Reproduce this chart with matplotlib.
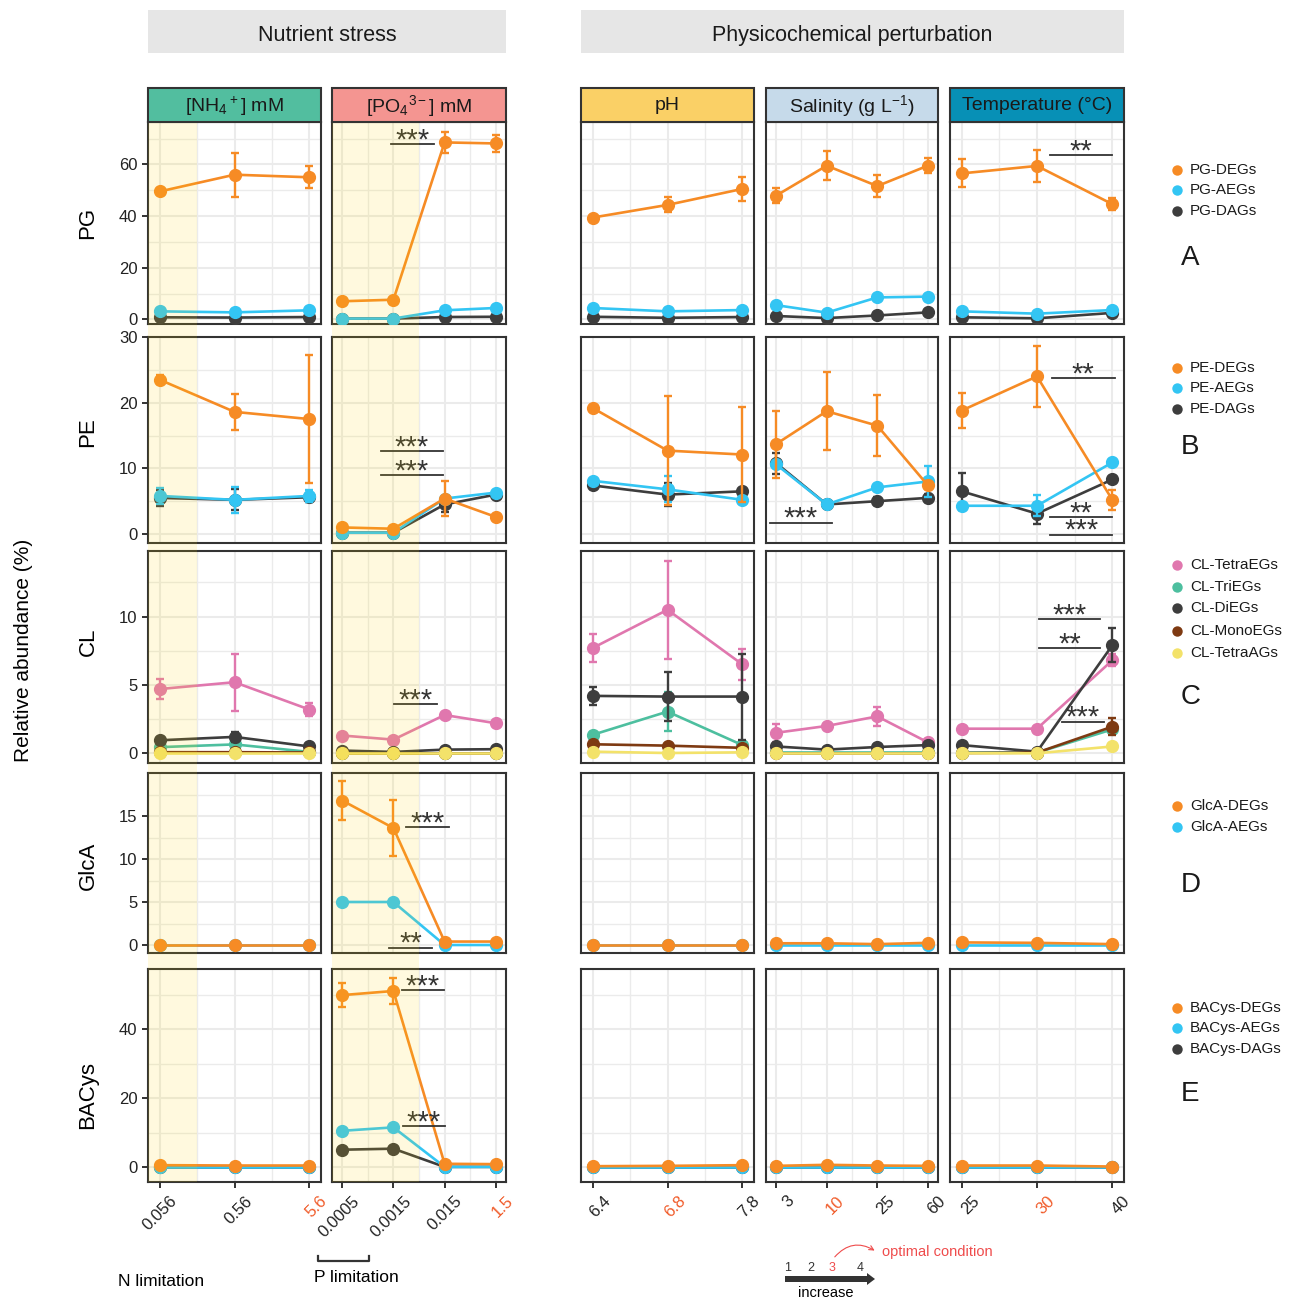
import numpy as np
import matplotlib
matplotlib.use("Agg")
import matplotlib.pyplot as plt
from matplotlib.patches import Rectangle, FancyArrow, FancyArrowPatch
from matplotlib.transforms import ScaledTranslation

plt.rcParams["font.family"] = ["Liberation Sans", "DejaVu Sans"]
plt.rcParams["mathtext.fontset"] = "custom"
plt.rcParams["mathtext.rm"] = "Liberation Sans"
plt.rcParams["mathtext.it"] = "Liberation Sans:italic"
plt.rcParams["mathtext.default"] = "regular"

# ---- data ----
LEVELS = [["0.056", "0.56", "5.6"],
          ["0.0005", "0.0015", "0.015", "1.5"],
          ["6.4", "6.8", "7.8"],
          ["3", "10", "25", "60"],
          ["25", "30", "40"]]
OPTIMAL = ["5.6", "1.5", "6.8", "10", "30"]
STRIPS = [r"[NH$_4$$^+$] mM", r"[PO$_4$$^{3-}$] mM", "pH",
          r"Salinity (g L$^{-1}$)", "Temperature (°C)"]
STRIP_COLORS = ["#52BE9F", "#F49591", "#FAD066", "#C6DAEA", "#0790B6"]
GROUPS = ["Nutrient stress", "Physicochemical perturbation"]
ROW_NAMES = ["PG", "PE", "CL", "GlcA", "BACys"]

PG_DEG = [[49.5, 56.0, 55.0], [7.0, 7.6, 68.5, 68.1], [39.4, 44.3, 50.5], [47.9, 59.5, 51.6, 59.5], [56.5, 59.4, 44.6]]
PG_DEG_SD = [[0.8, 8.5, 4.2], [0.5, 0.5, 4.2, 3.2], [0.8, 2.9, 4.6], [2.9, 5.7, 4.3, 2.9], [5.4, 6.2, 2.2]]
PG_AEG = [[3.1, 2.7, 3.5], [0.3, 0.3, 3.5, 4.4], [4.4, 3.1, 3.6], [5.5, 2.6, 8.5, 8.8], [3.1, 2.2, 3.6]]
PG_AEG_SD = [[0.3, 0.3, 0.3], [0.1, 0.1, 0.4, 0.4], [0.3, 0.3, 0.3], [0.5, 0.3, 0.5, 0.6], [0.3, 0.3, 0.3]]
PG_DAG = [[0.8, 0.7, 0.9], [0.3, 0.3, 0.9, 1.0], [1.0, 0.6, 0.9], [1.3, 0.5, 1.5, 2.7], [0.8, 0.4, 2.5]]
PG_DAG_SD = [[0.2, 0.2, 0.2], [0.1, 0.1, 0.2, 0.2], [0.2, 0.2, 0.2], [0.3, 0.2, 0.3, 0.4], [0.2, 0.2, 0.4]]

PE_DEG = [[23.5, 18.6, 17.5], [1.0, 0.8, 5.4, 2.6], [19.2, 12.7, 12.1], [13.7, 18.7, 16.5, 7.4], [18.8, 24.0, 5.2]]
PE_DEG_SD = [[0.7, 2.7, 9.8], [0.2, 0.2, 2.7, 0.3], [0.4, 8.3, 7.2], [5.1, 5.9, 4.6, 0.6], [2.7, 4.7, 1.5]]
PE_AEG = [[5.8, 5.2, 5.8], [0.2, 0.2, 5.4, 6.3], [8.1, 6.8, 5.2], [10.6, 4.5, 7.1, 8.0], [4.3, 4.3, 10.9]]
PE_AEG_SD = [[1.2, 2.0, 0.9], [0.1, 0.1, 0.3, 0.3], [0.3, 2.0, 0.3], [0.4, 0.3, 0.3, 2.3], [0.3, 1.6, 0.3]]
PE_DAG = [[5.5, 5.2, 5.6], [0.2, 0.2, 4.5, 6.0], [7.4, 6.0, 6.5], [10.8, 4.5, 5.0, 5.5], [6.5, 3.1, 8.3]]
PE_DAG_SD = [[1.2, 1.6, 0.7], [0.1, 0.1, 1.1, 0.3], [0.5, 1.7, 0.3], [1.6, 0.2, 0.6, 0.6], [2.8, 1.6, 0.3]]

CL_TETRA = [[4.7, 5.2, 3.2], [1.3, 1.0, 2.8, 2.2], [7.7, 10.5, 6.5], [1.5, 2.0, 2.7, 0.8], [1.8, 1.8, 6.8]]
CL_TETRA_SD = [[0.7, 2.1, 0.45], [0.1, 0.1, 0.1, 0.1], [1.0, 3.6, 1.15], [0.65, 0.15, 0.7, 0.1], [0.1, 0.1, 0.45]]
CL_TRI = [[0.45, 0.65, 0.1], [0.05, 0.05, 0.05, 0.05], [1.35, 3.05, 0.6], [0.1, 0.1, 0.1, 0.1], [0.05, 0.05, 1.75]]
CL_TRI_SD = [[0.15, 0.3, 0.05], [0.0, 0.0, 0.0, 0.0], [0.2, 1.45, 0.2], [0.0, 0.0, 0.0, 0.0], [0.0, 0.0, 0.3]]
CL_DI = [[0.95, 1.2, 0.5], [0.2, 0.1, 0.27, 0.3], [4.2, 4.15, 4.15], [0.5, 0.27, 0.46, 0.6], [0.6, 0.12, 7.9]]
CL_DI_SD = [[0.1, 0.35, 0.1], [0.05, 0.05, 0.1, 0.1], [0.65, 1.8, 3.15], [0.1, 0.1, 0.1, 0.1], [0.1, 0.1, 1.25]]
CL_MONO = [[0.08, 0.08, 0.06], [0.03, 0.03, 0.03, 0.03], [0.66, 0.56, 0.4], [0.05, 0.05, 0.05, 0.05], [0.02, 0.05, 1.95]]
CL_MONO_SD = [[0.0, 0.0, 0.0], [0.0, 0.0, 0.0, 0.0], [0.1, 0.15, 0.1], [0.0, 0.0, 0.0, 0.0], [0.0, 0.0, 0.6]]
CL_TETRA_AG = [[0.0, 0.0, 0.0], [0.0, 0.0, 0.0, 0.0], [0.12, 0.02, 0.07], [0.0, 0.0, 0.0, 0.0], [0.0, 0.0, 0.5]]
CL_TETRA_AG_SD = [[0.0, 0.0, 0.0], [0.0, 0.0, 0.0, 0.0], [0.0, 0.0, 0.0], [0.0, 0.0, 0.0, 0.0], [0.0, 0.0, 0.05]]

GLCA_DEG = [[0.05, 0.05, 0.05], [16.8, 13.6, 0.4, 0.4], [0.05, 0.05, 0.05], [0.2, 0.2, 0.1, 0.25], [0.3, 0.25, 0.1]]
GLCA_DEG_SD = [[0.0, 0.0, 0.0], [2.3, 3.3, 0.1, 0.1], [0.0, 0.0, 0.0], [0.0, 0.0, 0.0, 0.0], [0.0, 0.0, 0.0]]
GLCA_AEG = [[0.0, 0.0, 0.0], [5.0, 5.0, 0.0, 0.0], [0.0, 0.0, 0.0], [0.0, 0.0, 0.0, 0.0], [0.0, 0.0, 0.0]]
GLCA_AEG_SD = [[0.0, 0.0, 0.0], [0.1, 0.1, 0.0, 0.0], [0.0, 0.0, 0.0], [0.0, 0.0, 0.0, 0.0], [0.0, 0.0, 0.0]]

BAC_DEG = [[0.5, 0.4, 0.4], [50.0, 51.2, 0.9, 0.8], [0.2, 0.3, 0.5], [0.3, 0.6, 0.4, 0.3], [0.4, 0.4, 0.1]]
BAC_DEG_SD = [[0.0, 0.0, 0.0], [3.4, 3.8, 0.1, 0.1], [0.0, 0.0, 0.0], [0.0, 0.0, 0.0, 0.0], [0.0, 0.0, 0.0]]
BAC_AEG = [[0.0, 0.0, 0.0], [10.5, 11.5, 0.0, 0.0], [0.0, 0.0, 0.0], [0.1, 0.1, 0.1, 0.1], [0.0, 0.0, 0.0]]
BAC_AEG_SD = [[0.0, 0.0, 0.0], [0.3, 0.3, 0.0, 0.0], [0.0, 0.0, 0.0], [0.0, 0.0, 0.0, 0.0], [0.0, 0.0, 0.0]]
BAC_DAG = [[0.0, 0.0, 0.0], [5.0, 5.3, 0.0, 0.0], [0.0, 0.0, 0.0], [0.0, 0.0, 0.0, 0.0], [0.0, 0.0, 0.0]]
BAC_DAG_SD = [[0.0, 0.0, 0.0], [0.2, 0.2, 0.0, 0.0], [0.0, 0.0, 0.0], [0.0, 0.0, 0.0, 0.0], [0.0, 0.0, 0.0]]

# significance bars: (row, col, x0, x1, y, label)
SIG = [(0, 1, 1.96, 2.80, 67.8, "***"),
       (0, 4, 2.17, 3.00, 63.6, "**"),
       (1, 1, 1.75, 2.96, 12.6, "***"),
       (1, 1, 1.75, 2.96, 9.0, "***"),
       (1, 3, 0.88, 2.10, 1.7, "***"),
       (1, 4, 2.20, 3.03, 23.7, "**"),
       (1, 4, 2.17, 3.00, 2.6, "**"),
       (1, 4, 2.17, 3.00, -0.1, "***"),
       (2, 1, 2.02, 2.86, 3.6, "***"),
       (2, 4, 2.03, 2.84, 9.8, "***"),
       (2, 4, 2.03, 2.84, 7.7, "**"),
       (2, 4, 2.33, 2.89, 2.3, "***"),
       (3, 1, 2.24, 3.08, 13.7, "***"),
       (3, 1, 1.92, 2.76, -0.3, "**"),
       (4, 1, 2.16, 2.98, 51.4, "***"),
       (4, 1, 2.18, 3.00, 11.9, "***")]

ORANGE, BLUE, DARK = "#F68B25", "#33C5F3", "#3D3D3D"
PINK, TEAL, BROWN, YELLOW = "#E077AE", "#4DBF9F", "#7E3A12", "#F3E26A"

# series per row, drawn bottom -> top
ROWS = [
    [("PG-DAGs", DARK, PG_DAG, PG_DAG_SD), ("PG-AEGs", BLUE, PG_AEG, PG_AEG_SD), ("PG-DEGs", ORANGE, PG_DEG, PG_DEG_SD)],
    [("PE-DAGs", DARK, PE_DAG, PE_DAG_SD), ("PE-AEGs", BLUE, PE_AEG, PE_AEG_SD), ("PE-DEGs", ORANGE, PE_DEG, PE_DEG_SD)],
    [("CL-TetraEGs", PINK, CL_TETRA, CL_TETRA_SD), ("CL-TriEGs", TEAL, CL_TRI, CL_TRI_SD),
     ("CL-DiEGs", DARK, CL_DI, CL_DI_SD), ("CL-MonoEGs", BROWN, CL_MONO, CL_MONO_SD),
     ("CL-TetraAGs", YELLOW, CL_TETRA_AG, CL_TETRA_AG_SD)],
    [("GlcA-AEGs", BLUE, GLCA_AEG, GLCA_AEG_SD), ("GlcA-DEGs", ORANGE, GLCA_DEG, GLCA_DEG_SD)],
    [("BACys-DAGs", DARK, BAC_DAG, BAC_DAG_SD), ("BACys-AEGs", BLUE, BAC_AEG, BAC_AEG_SD), ("BACys-DEGs", ORANGE, BAC_DEG, BAC_DEG_SD)],
]
LEGENDS = [[("PG-DEGs", ORANGE), ("PG-AEGs", BLUE), ("PG-DAGs", DARK)],
           [("PE-DEGs", ORANGE), ("PE-AEGs", BLUE), ("PE-DAGs", DARK)],
           [("CL-TetraEGs", PINK), ("CL-TriEGs", TEAL), ("CL-DiEGs", DARK), ("CL-MonoEGs", BROWN), ("CL-TetraAGs", YELLOW)],
           [("GlcA-DEGs", ORANGE), ("GlcA-AEGs", BLUE)],
           [("BACys-DEGs", ORANGE), ("BACys-AEGs", BLUE), ("BACys-DAGs", DARK)]]
LETTERS = ["A", "B", "C", "D", "E"]

# ---- layout (pixels) ----
W, H = 1297, 1300
COL_PX = [(148, 321), (332, 506), (581, 754), (766, 938), (950, 1124)]
ROW_PX = [(122, 324), (337, 543), (551, 763), (773, 953), (969, 1182)]
YLIM = [(-1.8, 76.4), (-1.37, 30.0), (-0.71, 14.8), (-0.93, 20.0), (-4.4, 57.6)]
YTICKS = [[0, 20, 40, 60], [0, 10, 20, 30], [0, 5, 10], [0, 5, 10, 15], [0, 20, 40]]
YMINOR = [[10, 30, 50, 70], [5, 15, 25], [2.5, 7.5, 12.5], [2.5, 7.5, 12.5, 17.5], [10, 30, 50]]
LEG_Y = [[170, 190, 211], [368, 388, 409], [565, 587, 608, 631, 653], [806, 827], [1008, 1028, 1049]]
LETTER_Y = [258, 447, 697, 885, 1094]
ROWLAB_Y = [223, 432, 642, 866, 1095]

GRID = "#EBEBEB"
INK = "#333333"
RED = "#F05A28"


def xlim_for(n):
    pad = 0.155 if n == 3 else 0.2
    return 1 - pad, n + pad


fig = plt.figure(figsize=(W / 100, H / 100), dpi=100)

for r, series in enumerate(ROWS):
    t, b = ROW_PX[r]
    for c, (l, rr) in enumerate(COL_PX):
        ax = fig.add_axes([l / W, 1 - b / H, (rr - l) / W, (b - t) / H])
        n = len(LEVELS[c])
        x = np.arange(1, n + 1)
        ax.set_xlim(*xlim_for(n))
        ax.set_ylim(*YLIM[r])
        ax.set_xticks(x)
        ax.set_xticks(x[:-1] + 0.5, minor=True)
        ax.set_yticks(YTICKS[r])
        ax.set_yticks(YMINOR[r], minor=True)
        ax.grid(which="major", color=GRID, lw=1.5)
        ax.grid(which="minor", color=GRID, lw=1.0)
        ax.set_axisbelow(True)
        for s in ax.spines.values():
            s.set_color(INK)
            s.set_linewidth(1.5)
        ax.tick_params(which="minor", length=0)
        ax.tick_params(which="major", color=INK, width=1.4, length=4,
                       labelsize=12, labelcolor="#222222")
        if c > 0:
            ax.tick_params(axis="y", length=0, labelleft=False)
        if r < len(ROWS) - 1:
            ax.tick_params(axis="x", length=0, labelbottom=False)
        else:
            ax.set_xticklabels(LEVELS[c], rotation=45, ha="right", va="top",
                               rotation_mode="anchor")
            for lab in ax.get_xticklabels():
                lab.set_transform(lab.get_transform() +
                                  ScaledTranslation(0.1, -0.01, fig.dpi_scale_trans))
                if lab.get_text() == OPTIMAL[c]:
                    lab.set_color(RED)

        for k, (name, col, vals, sds) in enumerate(series):
            ax.errorbar(x, vals[c], yerr=sds[c], color=col, lw=1.9, marker="o", ms=8.5,
                        capsize=3, capthick=1.7, elinewidth=1.7, zorder=3 + k)

        for (sr, sc, x0, x1, y, lab) in SIG:
            if sr == r and sc == c:
                ax.plot([x0, x1], [y, y], color=INK, lw=1.3, zorder=10, clip_on=False)
                ax.annotate(lab, xy=((x0 + x1) / 2, y), xytext=(0, -3),
                            textcoords="offset points", ha="center", va="baseline",
                            fontsize=21, color=INK, zorder=10)

# ---- overlay for shading, strips, labels, legends ----
ov = fig.add_axes([0, 0, 1, 1], zorder=20)
ov.set_xlim(0, W)
ov.set_ylim(H, 0)
ov.axis("off")
ov.patch.set_alpha(0)


def data_to_px(c, xv):
    lo, hi = xlim_for(len(LEVELS[c]))
    l, rr = COL_PX[c]
    return l + (xv - lo) / (hi - lo) * (rr - l)


# limitation shading (N: first level, P: first two levels)
for c, upto in [(0, 1.5), (1, 2.5)]:
    x0 = COL_PX[c][0]
    x1 = data_to_px(c, upto)
    ov.add_patch(Rectangle((x0, ROW_PX[0][0]), x1 - x0, ROW_PX[-1][1] - ROW_PX[0][0],
                           fc="#FFD700", ec="none", alpha=0.13))

# group headers
for (x0, x1), lab in zip([(148, 506), (581, 1124)], GROUPS):
    ov.add_patch(Rectangle((x0, 10), x1 - x0, 43, fc="#E6E6E6", ec="none"))
    ov.text((x0 + x1) / 2, 35.5, lab, ha="center", va="center", fontsize=15.5, color="#1A1A1A")

# facet strips
for (l, rr), lab, col in zip(COL_PX, STRIPS, STRIP_COLORS):
    ov.add_patch(Rectangle((l, 88), rr - l, 34, fc=col, ec=INK, lw=1.5))
    ov.text((l + rr) / 2, 106, lab, ha="center", va="center", fontsize=14, color="#1A1A1A")

# row labels and y title
for lab, y in zip(ROW_NAMES, ROWLAB_Y):
    ov.text(88, y, lab, rotation=90, ha="center", va="center", fontsize=16)
ov.text(24, 650, "Relative abundance (%)", rotation=90, ha="center", va="center", fontsize=15)

# legends and panel letters
for items, ys, letter, ly in zip(LEGENDS, LEG_Y, LETTERS, LETTER_Y):
    for (lab, col), y in zip(items, ys):
        ov.plot(1177, y, "o", ms=7.5, color=col, mec="none")
        ov.text(1190, y, lab, ha="left", va="center", fontsize=11, color="#1A1A1A")
    ov.text(1181, ly, letter, ha="left", va="center", fontsize=20, color="#1A1A1A")

# bottom notes
ov.text(118, 1281, "N limitation", ha="left", va="center", fontsize=12.5)
ov.plot([318, 318, 369, 369], [1256, 1261, 1261, 1256], color=INK, lw=1.6)
ov.text(356, 1278, "P limitation", ha="center", va="center", fontsize=12.5)

ov.add_patch(FancyArrow(785, 1279, 90, 0, width=6, head_width=12, head_length=8,
                        length_includes_head=True, color=INK, lw=0))
for s, xs, col in zip(["1", "2", "3", "4"], [788, 811, 832, 860], [INK, INK, "#EF4B4B", INK]):
    ov.text(xs, 1268, s, ha="center", va="center", fontsize=9, color=col)
ov.text(826, 1293, "increase", ha="center", va="center", fontsize=10.5)
ov.add_patch(FancyArrowPatch((833, 1259), (877, 1252), connectionstyle="arc3,rad=-0.45",
                             arrowstyle="->", mutation_scale=8, color="#EF4B4B", lw=0.8))
ov.text(882, 1252, "optimal condition", ha="left", va="center", fontsize=10.5, color="#EF4B4B")

fig.savefig("out.png", dpi=100)
